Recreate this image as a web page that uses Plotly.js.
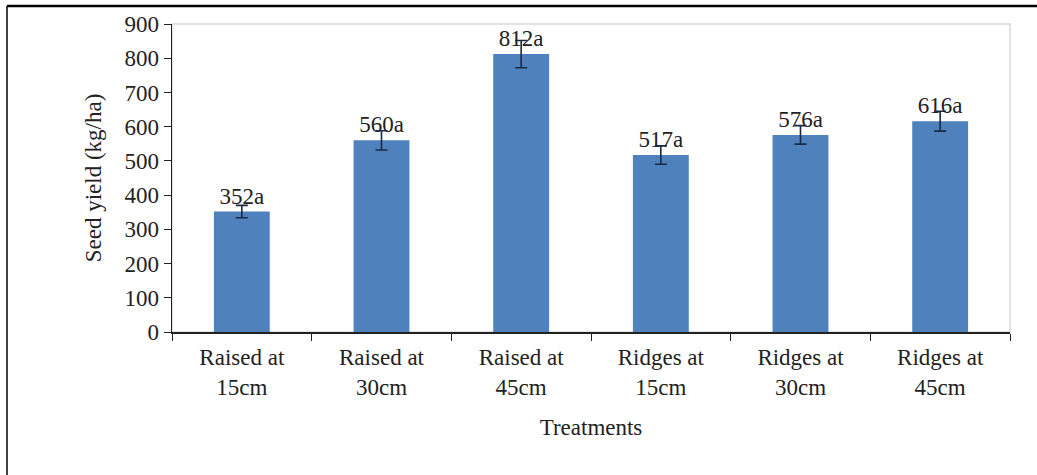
<!DOCTYPE html>
<html>
<head>
<meta charset="utf-8">
<script src="https://cdn.plot.ly/plotly-3.0.1.min.js"></script>
<style>html,body{margin:0;padding:0;background:#fff;}#chart{width:1037px;height:475px;}</style>
</head>
<body>
<div id="chart"></div>
<script>
const categories = ["Raised at<br>15cm", "Raised at<br>30cm", "Raised at<br>45cm", "Ridges at<br>15cm", "Ridges at<br>30cm", "Ridges at<br>45cm"];
const seedYield = [352, 560, 812, 517, 576, 616];
const errors = [18, 28, 40, 27, 27, 29];
const labels = ["352a", "560a", "812a", "517a", "576a", "616a"];
const yTicks = [0, 100, 200, 300, 400, 500, 600, 700, 800, 900];

const serif = "Liberation Serif, Times New Roman, serif";
const FS = 23;

const trace = {
  type: "bar",
  x: categories,
  y: seedYield,
  text: labels,
  textposition: "outside",
  cliponaxis: false,
  textfont: {family: serif, size: FS, color: "#222"},
  marker: {color: "#4F81BD"},
  error_y: {type: "data", array: errors, visible: true, color: "#1a2a44", thickness: 1.6, width: 6},
  hoverinfo: "none"
};

const L = 172, R = 1010, T = 24, B = 332, W = 1037, H = 475;
const pw = R - L, ph = B - T;

const layout = {
  width: W, height: H,
  margin: {l: L, r: W - R, t: T, b: H - B, pad: 0},
  paper_bgcolor: "#fff",
  plot_bgcolor: "#fff",
  showlegend: false,
  bargap: 0.6,
  font: {family: serif, size: FS, color: "#222"},
  xaxis: {
    type: "category",
    tickson: "boundaries",
    ticks: "outside",
    ticklen: 7,
    tickcolor: "#222",
    ticklabelstandoff: 4,
    showline: true,
    linecolor: "#222",
    linewidth: 1.5,
    tickfont: {family: serif, size: FS, color: "#222"},
    title: {text: "Treatments", font: {family: serif, size: FS, color: "#222"}, standoff: 20},
    showgrid: false,
    zeroline: false
  },
  yaxis: {
    range: [0, 900],
    tickvals: yTicks,
    ticktext: yTicks.map(String),
    ticks: "outside",
    ticklen: 7,
    tickcolor: "#222",
    showline: true,
    linecolor: "#222",
    linewidth: 1.5,
    showgrid: false,
    zeroline: false,
    tickfont: {family: serif, size: FS, color: "#222"},
    title: {text: "Seed yield (kg/ha)", font: {family: serif, size: FS, color: "#222"}, standoff: 16}
  },
  shapes: [
    {type: "rect", xref: "paper", yref: "paper", x0: 0, x1: 1, y0: 0, y1: 1, line: {color: "#d9d9d9", width: 1.5}, layer: "below"},
    {type: "line", xref: "paper", yref: "paper", x0: (7 - L) / pw, x1: (W - L) / pw, y0: (B - 6) / ph, y1: (B - 6) / ph, line: {color: "#000", width: 2.5}},
    {type: "line", xref: "paper", yref: "paper", x0: (7 - L) / pw, x1: (7 - L) / pw, y0: (B - 6) / ph, y1: (B - H) / ph, line: {color: "#000", width: 1.5}}
  ]
};

Plotly.newPlot("chart", [trace], layout, {displayModeBar: false, staticPlot: true});
</script>
</body>
</html>
